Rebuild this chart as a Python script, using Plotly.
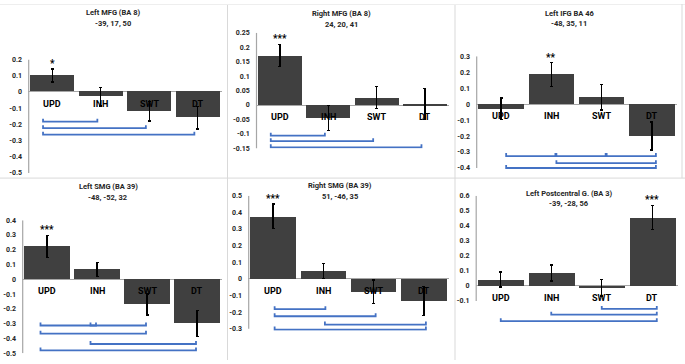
import plotly.graph_objects as go

W, H = 685, 364

categories = ["UPD", "INH", "SWT", "DT"]

title_lines = [
    ("Left MFG (BA 8)", "-39, 17, 50"),
    ("Right MFG (BA 8)", "24, 20, 41"),
    ("Left IFG BA 46", "-48, 35, 11"),
    ("Left SMG (BA 39)", "-48, -52, 32"),
    ("Right SMG (BA 39)", "51, -46, 35"),
    ("Left Postcentral G. (BA 3)", "-39, -28, 56"),
]

values_left_mfg = [0.10, -0.03, -0.12, -0.16]
values_right_mfg = [0.172, -0.045, 0.026, 0.004]
values_left_ifg = [-0.03, 0.185, 0.043, -0.20]
values_left_smg = [0.222, 0.066, -0.17, -0.297]
values_right_smg = [0.376, 0.047, -0.078, -0.133]
values_left_postc = [0.043, 0.087, -0.011, 0.455]

errors_left_mfg = [0.04, 0.056, 0.06, 0.07]
errors_right_mfg = [0.038, 0.043, 0.038, 0.054]
errors_left_ifg = [0.068, 0.075, 0.08, 0.087]
errors_left_smg = [0.075, 0.048, 0.07, 0.088]
errors_right_smg = [0.075, 0.045, 0.07, 0.087]
errors_left_postc = [0.05, 0.053, 0.055, 0.08]

stars_left_mfg = ["*", "", "", ""]
stars_right_mfg = ["***", "", "", ""]
stars_left_ifg = ["", "**", "", ""]
stars_left_smg = ["***", "", "", ""]
stars_right_smg = ["***", "", "", ""]
stars_left_postc = ["", "", "", "***"]

# significance brackets: (from category index, to category index, level)
brackets_left_mfg = [(0, 1, -0.184), (0, 2, -0.224), (0, 3, -0.264)]
brackets_right_mfg = [(0, 1, -0.106), (0, 2, -0.125), (0, 3, -0.146)]
brackets_left_ifg = [(0, 1, -0.325), (1, 2, -0.325), (2, 3, -0.325), (1, 3, -0.37), (0, 3, -0.40)]
brackets_left_smg = [(0, 1, -0.312), (1, 2, -0.312), (0, 2, -0.367), (1, 3, -0.437), (0, 3, -0.48)]
brackets_right_smg = [(0, 1, -0.182), (0, 2, -0.225), (1, 3, -0.275), (0, 3, -0.305)]
brackets_left_postc = [(2, 3, -0.152), (1, 3, -0.19), (0, 3, -0.234)]

# y tick settings per panel: (min, max, step)
ticks_left_mfg = (-0.5, 0.2, 0.1)
ticks_right_mfg = (-0.15, 0.25, 0.05)
ticks_left_ifg = (-0.4, 0.3, 0.1)
ticks_left_smg = (-0.5, 0.4, 0.1)
ticks_right_smg = (-0.3, 0.5, 0.1)
ticks_left_postc = (-0.1, 0.6, 0.1)

values = [values_left_mfg, values_right_mfg, values_left_ifg,
          values_left_smg, values_right_smg, values_left_postc]
errors = [errors_left_mfg, errors_right_mfg, errors_left_ifg,
          errors_left_smg, errors_right_smg, errors_left_postc]
stars = [stars_left_mfg, stars_right_mfg, stars_left_ifg,
         stars_left_smg, stars_right_smg, stars_left_postc]
brackets = [brackets_left_mfg, brackets_right_mfg, brackets_left_ifg,
            brackets_left_smg, brackets_right_smg, brackets_left_postc]
ticks = [ticks_left_mfg, ticks_right_mfg, ticks_left_ifg,
         ticks_left_smg, ticks_right_smg, ticks_left_postc]

# ---- layout geometry (pixels) ----
geom = [
    dict(xl=28, xr=222, yt=56.7, yb=172.7, lo=0.0, o0=-0.19, o1=-0.07, tx=113, ty=(8.5, 19.5)),
    dict(xl=255.8, xr=449, yt=29.3, yb=147.7, lo=0.0, o0=-0.19, o1=-0.07, tx=341, ty=(9.5, 20.5)),
    dict(xl=476, xr=677, yt=53.3, yb=167.7, lo=0.012, o0=0.1, o1=0.08, tx=569, ty=(10, 20)),
    dict(xl=22, xr=222, yt=221, yb=357.2, lo=0.0, o0=-0.13, o1=-0.02, tx=108, ty=(187, 198)),
    dict(xl=248, xr=449, yt=196, yb=332, lo=0.012, o0=0.03, o1=0.04, tx=340, ty=(186, 197)),
    dict(xl=475.5, xr=677.5, yt=196, yb=303.7, lo=0.15, o0=0.0, o1=0.09, tx=569, ty=(193.5, 203.5)),
]

FONT = "Roboto"
BAR = "#404040"
BLUE = "#4472C4"
AXIS = "#a6a6a6"

fig = go.Figure()
annotations = []
shapes = []
layout = {}

for i in range(6):
    n = i + 1
    xa = "x" if n == 1 else f"x{n}"
    ya = "y" if n == 1 else f"y{n}"
    g = geom[i]
    tmin, tmax, step = ticks[i]
    ppu = (g["yb"] - g["yt"]) / (tmax - tmin)
    rmin = tmin - g["lo"]
    rmax = tmax
    top_px = g["yt"]
    bot_px = g["yb"] + g["lo"] * ppu

    nt = int(round((tmax - tmin) / step))
    tv = [round(tmin + k * step, 4) for k in range(nt + 1)]
    tt = ["{:g}".format(v) for v in tv]

    fig.add_trace(go.Bar(
        x=list(range(len(categories))), y=values[i], width=0.91,
        marker=dict(color=BAR, line=dict(width=0)),
        error_y=dict(type="data", array=errors[i], color="black", thickness=1.4, width=1.5),
        xaxis=xa, yaxis=ya, showlegend=False, hoverinfo="skip",
    ))

    h = 3.0 / ppu
    for (a, b, lvl) in brackets[i]:
        x0 = a + g["o0"]
        x1 = b + g["o1"]
        fig.add_trace(go.Scatter(
            x=[x0, x0, x1, x1], y=[lvl + h, lvl, lvl, lvl + h],
            mode="lines", line=dict(color=BLUE, width=1.8),
            xaxis=xa, yaxis=ya, showlegend=False, hoverinfo="skip",
        ))

    for k, c in enumerate(categories):
        annotations.append(dict(
            x=k, y=0, xref=xa, yref=ya, text=c, showarrow=False,
            yanchor="top", yshift=-5,
            font=dict(family=FONT, size=9, color="black", weight="bold"),
        ))
        if stars[i][k]:
            annotations.append(dict(
                x=k, y=values[i][k] + errors[i][k], xref=xa, yref=ya,
                text=stars[i][k], showarrow=False, yanchor="bottom", yshift=-2,
                font=dict(family=FONT, size=10, color="black", weight="bold"),
            ))

    for li, line in enumerate(title_lines[i]):
        annotations.append(dict(
            x=g["tx"] / W, y=1 - g["ty"][li] / H, xref="paper", yref="paper",
            text=line, showarrow=False, xanchor="center", yanchor="middle",
            font=dict(family=FONT, size=7.5, color="#262626", weight="bold"),
        ))

    pw = g["xr"] - g["xl"]
    shapes.append(dict(
        type="line", xref=f"{xa} domain", yref=ya, x0=0.7 / pw, x1=0.7 / pw, y0=tmin, y1=tmax,
        line=dict(color=AXIS, width=1.2),
    ))

    key_x = "xaxis" if n == 1 else f"xaxis{n}"
    key_y = "yaxis" if n == 1 else f"yaxis{n}"
    layout[key_x] = dict(
        domain=[g["xl"] / W, g["xr"] / W], range=[-0.5, 3.5],
        showticklabels=False, showgrid=False, zeroline=False, showline=False,
        anchor=ya, fixedrange=True,
    )
    layout[key_y] = dict(
        domain=[1 - bot_px / H, 1 - top_px / H], range=[rmin, rmax],
        tickvals=tv, ticktext=tt, ticks="", showgrid=False,
        zeroline=True, zerolinecolor=AXIS, zerolinewidth=1, showline=False,
        tickfont=dict(family=FONT, size=7, color="#262626", weight="bold"),
        ticklabelstandoff=5, anchor=xa, fixedrange=True,
    )

# panel separators
SEP = "#d9d9d9"
for xs in (227.5, 455):
    shapes.append(dict(type="line", xref="paper", yref="paper",
                       x0=xs / W, x1=xs / W, y0=0, y1=1, line=dict(color=SEP, width=1)))
shapes.append(dict(type="line", xref="paper", yref="paper",
                   x0=0, x1=1, y0=1 - 178 / H, y1=1 - 178 / H, line=dict(color=SEP, width=1)))
shapes.append(dict(type="line", xref="paper", yref="paper",
                   x0=0, x1=1, y0=1 - 0.5 / H, y1=1 - 0.5 / H, line=dict(color="#eeeeee", width=1)))
shapes.append(dict(type="line", xref="paper", yref="paper",
                   x0=682 / W, x1=682 / W, y0=1 - 178 / H, y1=1, line=dict(color=SEP, width=1)))

fig.update_layout(
    width=W, height=H, margin=dict(l=0, r=0, t=0, b=0),
    paper_bgcolor="white", plot_bgcolor="white",
    annotations=annotations, shapes=shapes, bargap=0,
    showlegend=False, **layout,
)

fig.write_html("out.html", config={"displayModeBar": False},
               post_script="document.body.style.margin='0';")
